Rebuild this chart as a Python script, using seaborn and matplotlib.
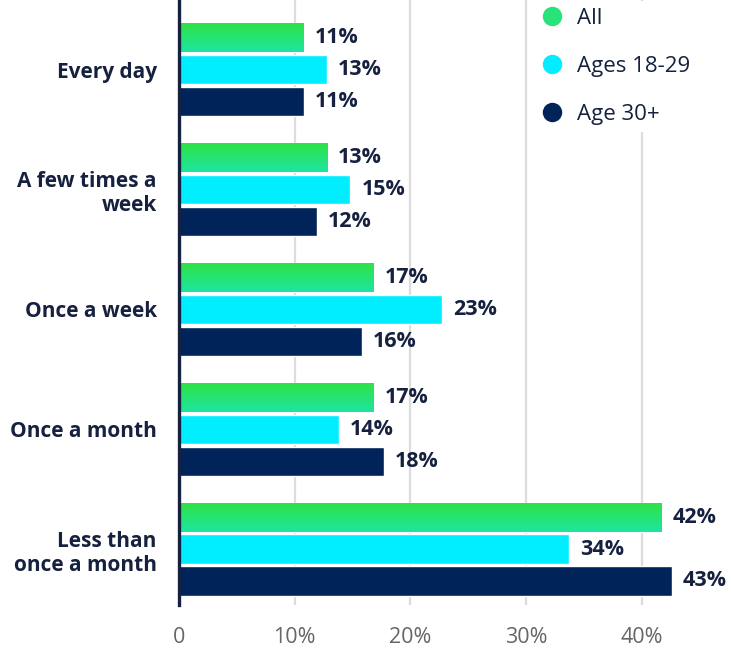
import numpy as np
import pandas as pd
import seaborn as sns
import matplotlib.pyplot as plt
from matplotlib.colors import LinearSegmentedColormap
from matplotlib.lines import Line2D

categories = ["Every day", "A few times a\nweek", "Once a week", "Once a month", "Less than\nonce a month"]
series = ["All", "Ages 18-29", "Age 30+"]
all_vals = [10.8, 12.8, 16.8, 16.8, 41.7]
young_vals = [12.8, 14.8, 22.7, 13.8, 33.7]
older_vals = [10.8, 11.9, 15.8, 17.7, 42.6]
x_ticks = [0, 10, 20, 30, 40]
x_ticklabels = ["0", "10%", "20%", "30%", "40%"]

navy = "#16213f"
colors = ["#27e37a", "#00eeff", "#00245a"]

sns.set_style("white")
plt.rcParams['font.family'] = ['Open Sans', 'DejaVu Sans']

df = pd.DataFrame({
    "cat": categories * 3,
    "group": [s for s in series for _ in categories],
    "val": all_vals + young_vals + older_vals,
})

fig = plt.figure(figsize=(7.31, 6.59), dpi=100)
ax = fig.add_axes([179 / 731, 1 - 605 / 659, 1 - 179 / 731, 605 / 659])

sns.barplot(data=df, x="val", y="cat", hue="group", hue_order=series, order=categories,
            palette=colors, orient="h", width=0.8, gap=0.09, legend=False, ax=ax,
            saturation=1, zorder=2)

# gradient fill for the "All" bars
grad_cmap = LinearSegmentedColormap.from_list("g", ["#30e242", "#1ee5a2"])
grad = np.linspace(0, 1, 64).reshape(-1, 1)
for p in ax.containers[0]:
    x0, y0, w, h = p.get_x(), p.get_y(), p.get_width(), p.get_height()
    im = ax.imshow(grad, extent=[x0, x0 + w, y0 + h, y0], origin="upper", cmap=grad_cmap,
                   aspect="auto", zorder=2.5)
    im.set_clip_path(p)

for cont in ax.containers:
    ax.bar_label(cont, labels=[f"{round(v.get_width())}%" for v in cont], padding=8,
                 fontsize=15.5, fontweight="bold", color=navy)

ax.set_xlim(0, 47.7)
ax.set_ylim(4.467, -0.58)
ax.set_xticks(x_ticks)
ax.set_xticklabels(x_ticklabels, color="#666666", fontsize=15.5)
ax.set_yticks(range(len(categories)))
ax.set_yticklabels(categories, fontweight="bold", fontsize=15, color=navy,
                   ha="right", multialignment="right")
ax.tick_params(axis="x", length=0, pad=15.5)
ax.tick_params(axis="y", length=0, pad=16)
ax.set_xlabel("")
ax.set_ylabel("")
ax.grid(axis="x", color="#dcdcdc", linewidth=1.6, zorder=0)
ax.set_axisbelow(True)
for s in ["top", "right", "bottom"]:
    ax.spines[s].set_visible(False)
ax.spines["left"].set_color(navy)
ax.spines["left"].set_linewidth(2.4)
ax.spines["left"].set_zorder(5)

handles = [Line2D([], [], marker="o", linestyle="none", markersize=14, color=c, markeredgewidth=0)
           for c in colors]
leg = ax.legend(handles, series, loc="upper left", bbox_to_anchor=(0.643, 0.998), frameon=True,
                facecolor="white", edgecolor="none", framealpha=1, fontsize=16, labelspacing=1.22,
                handlelength=1.0, handletextpad=0.63, borderpad=0.3, borderaxespad=0)
for t in leg.get_texts():
    t.set_color(navy)
leg.set_zorder(6)

fig.savefig("out.png", dpi=100)
